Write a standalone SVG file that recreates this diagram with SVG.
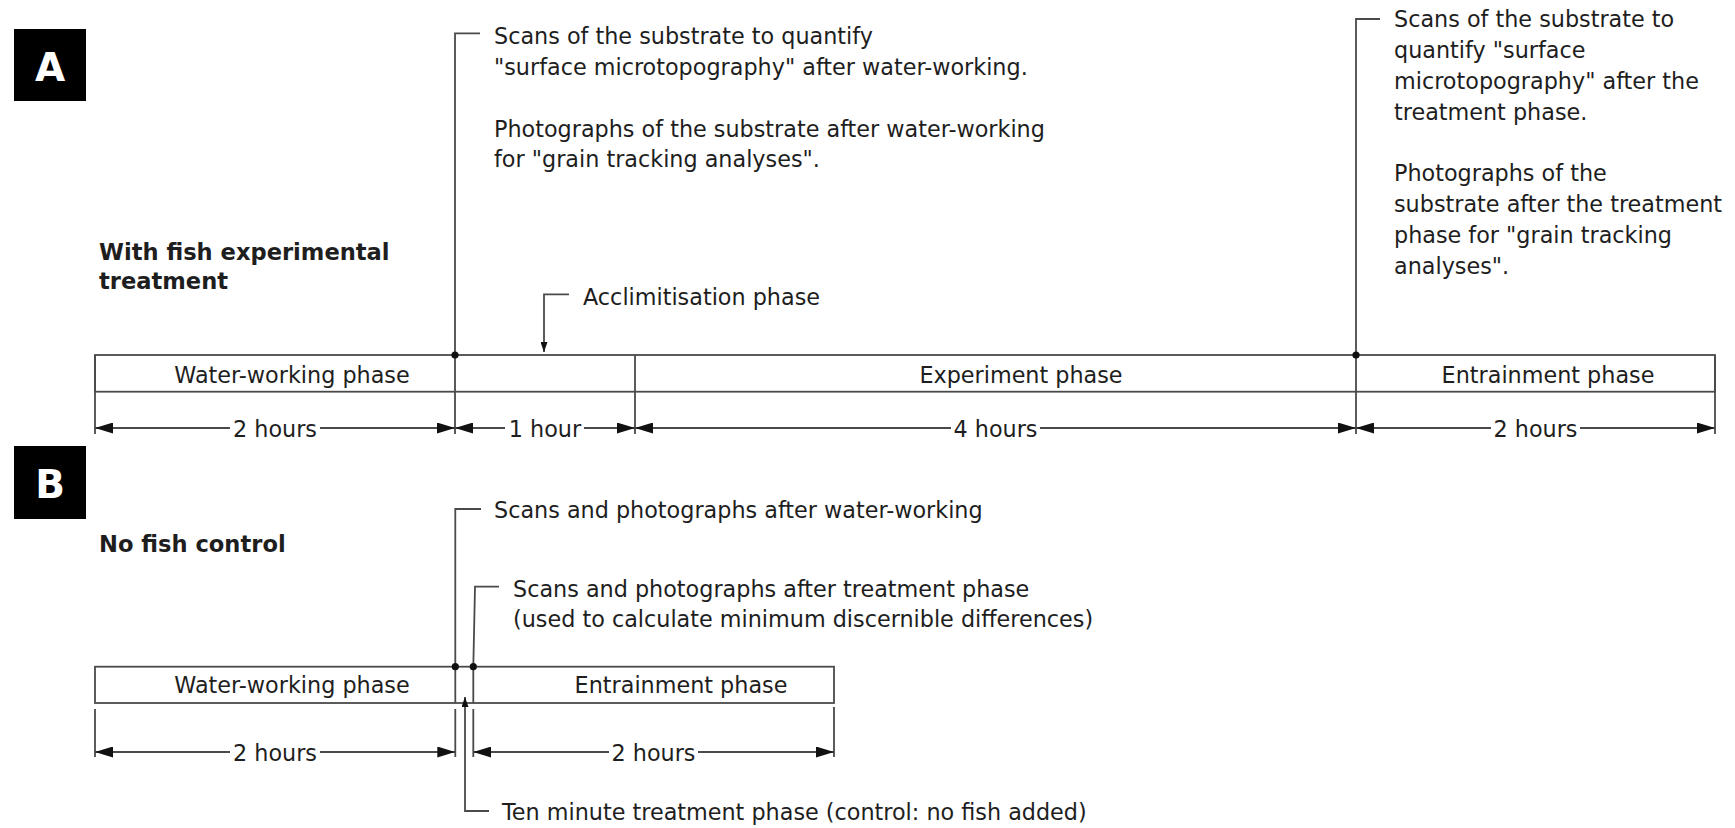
<svg xmlns="http://www.w3.org/2000/svg" width="1735" height="828" viewBox="0 0 1735 828">
<style>
text{font-family:"DejaVu Sans",Verdana,sans-serif;font-size:22.3px;fill:#1e1e1e}
.b{font-weight:bold;font-size:22.6px}
.lbl{font-weight:bold;font-size:39px;fill:#fff}
.c{text-anchor:middle}
.ln{stroke:#4a4a4a;stroke-width:1.8;fill:none}
.bar{stroke:#4a4a4a;stroke-width:1.8;fill:#fff}
.dim{stroke:#4a4a4a;stroke-width:1.8;fill:none}
.ds{marker-start:url(#arr)}
.de{marker-end:url(#arr)}
.dot{fill:#111}
</style>
<defs>
<marker id="arr" viewBox="0 0 18 11" refX="18" refY="5.5" markerWidth="18" markerHeight="11" markerUnits="userSpaceOnUse" orient="auto-start-reverse"><path d="M0,0 L18,5.5 L0,11 Z" fill="#111"/></marker>
<marker id="sarr" viewBox="0 0 10 7" refX="10" refY="3.5" markerWidth="10" markerHeight="7" markerUnits="userSpaceOnUse" orient="auto"><path d="M0,0 L10,3.5 L0,7 Z" fill="#111"/></marker>
</defs>
<rect width="1735" height="828" fill="#fff"/>

<g id="panelA-label"><rect x="14" y="29" width="72" height="72" fill="#000"/><text class="lbl c" x="50" y="80.5">A</text></g>
<g id="panelB-label"><rect x="14" y="446" width="72" height="73" fill="#000"/><text class="lbl c" x="50" y="498">B</text></g>

<g id="title-A"><text class="b" x="99" y="260">With fish experimental</text><text class="b" x="99" y="289">treatment</text></g>
<g id="title-B"><text class="b" x="99" y="552">No fish control</text></g>

<g id="note-A1">
<text x="494" y="44">Scans of the substrate to quantify</text>
<text x="494" y="75">"surface microtopography" after water-working.</text>
<text x="494" y="136.5">Photographs of the substrate after water-working</text>
<text x="494" y="167">for "grain tracking analyses".</text>
</g>
<g id="note-A2">
<text x="1394" y="27.3">Scans of the substrate to</text>
<text x="1394" y="58.1">quantify "surface</text>
<text x="1394" y="88.9">microtopography" after the</text>
<text x="1394" y="119.7">treatment phase.</text>
<text x="1394" y="181.3">Photographs of the</text>
<text x="1394" y="212.1">substrate after the treatment</text>
<text x="1394" y="242.9">phase for "grain tracking</text>
<text x="1394" y="273.7">analyses".</text>
</g>
<g id="note-acclim"><text x="583" y="305">Acclimitisation phase</text></g>

<g id="timeline-A">
<rect class="bar" x="95" y="355" width="1620" height="36.7"/>
<text class="c" x="292" y="382.7">Water-working phase</text>
<text class="c" x="1021" y="382.7">Experiment phase</text>
<text class="c" x="1548" y="382.7">Entrainment phase</text>
</g>

<g id="note-B1"><text x="494" y="518">Scans and photographs after water-working</text></g>
<g id="note-B2">
<text x="513" y="596.7">Scans and photographs after treatment phase</text>
<text x="513" y="626.7">(used to calculate minimum discernible differences)</text>
</g>
<g id="note-B3"><text x="502" y="820">Ten minute treatment phase (control: no fish added)</text></g>

<g id="timeline-B">
<rect class="bar" x="95" y="666.7" width="739" height="36.3"/>
<text class="c" x="292" y="693.3">Water-working phase</text>
<text class="c" x="681" y="693.3">Entrainment phase</text>
</g>

<g id="connectors">
<path class="ln" d="M480,33.3 H455 V434"/>
<path class="ln" d="M1380,19 H1356 V434"/>
<path class="ln" d="M635,355 V434"/>
<path class="ln" d="M95,355 V434"/>
<path class="ln" d="M1715,355 V434"/>
<path class="ln" d="M569,294.3 H544 V352" marker-end="url(#sarr)"/>
<circle class="dot" cx="455" cy="355" r="3.6"/>
<circle class="dot" cx="1356" cy="355" r="3.6"/>
<line class="dim ds" x1="95" y1="428" x2="230" y2="428"/>
<line class="dim de" x1="320" y1="428" x2="455" y2="428"/>
<text class="c" x="275" y="437">2 hours</text>
<line class="dim ds" x1="455" y1="428" x2="505" y2="428"/>
<line class="dim de" x1="584" y1="428" x2="635" y2="428"/>
<text class="c" x="545" y="437">1 hour</text>
<line class="dim ds" x1="635" y1="428" x2="951" y2="428"/>
<line class="dim de" x1="1040" y1="428" x2="1356" y2="428"/>
<text class="c" x="995.5" y="437">4 hours</text>
<line class="dim ds" x1="1356" y1="428" x2="1491" y2="428"/>
<line class="dim de" x1="1580" y1="428" x2="1715" y2="428"/>
<text class="c" x="1535.5" y="437">2 hours</text>

<path class="ln" d="M481,509 H455.3 V703"/>
<path class="ln" d="M499,586.7 H475 L473.3,666.7 V703"/>
<path class="ln" d="M489,811 H465 V697" marker-end="url(#sarr)"/>
<circle class="dot" cx="455.3" cy="666.7" r="3.6"/>
<circle class="dot" cx="473.3" cy="666.7" r="3.6"/>
<path class="ln" d="M95,709 V757 M455.3,709 V757 M473.3,709 V757 M834,707 V757"/>
<line class="dim ds" x1="95" y1="752" x2="230" y2="752"/>
<line class="dim de" x1="320" y1="752" x2="455.3" y2="752"/>
<text class="c" x="275" y="761">2 hours</text>
<line class="dim ds" x1="473.3" y1="752" x2="609" y2="752"/>
<line class="dim de" x1="698" y1="752" x2="834" y2="752"/>
<text class="c" x="653.5" y="761">2 hours</text>
</g>
</svg>
